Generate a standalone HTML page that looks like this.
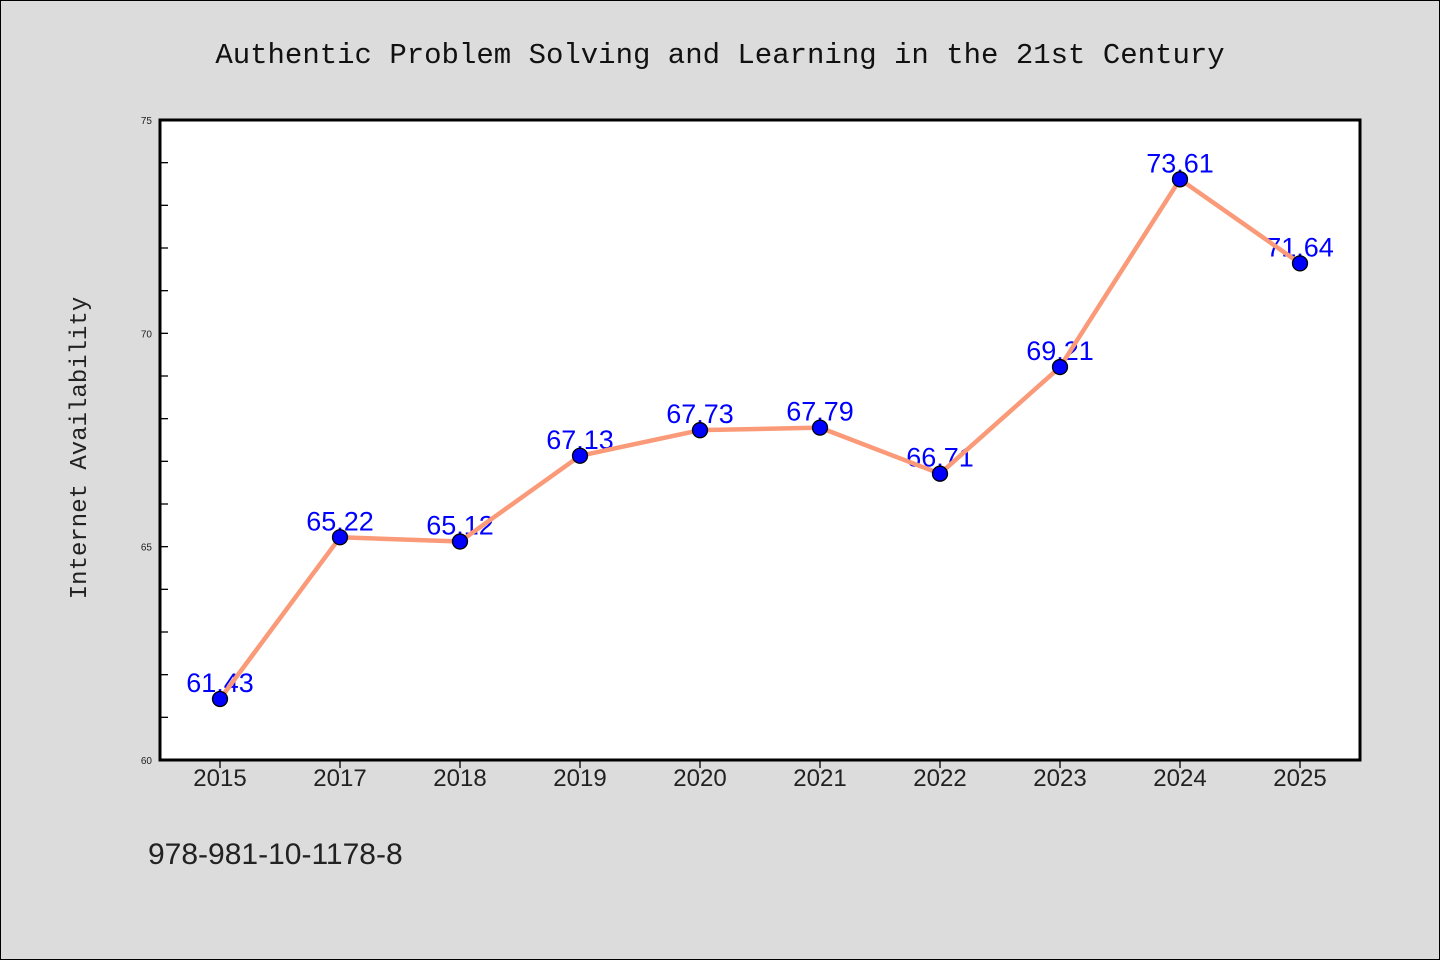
<!DOCTYPE html>
<html><head><meta charset="utf-8"><style>
body{margin:0;background:#dcdcdc;}
svg{display:block;}
</style></head><body>
<svg width="1440" height="960" xmlns="http://www.w3.org/2000/svg">
<rect x="0.5" y="0.5" width="1439" height="959" fill="#dcdcdc" stroke="#000" stroke-width="1"/>
<text x="720" y="63" text-anchor="middle" font-family="'Liberation Mono', monospace" font-size="29" fill="#111">Authentic Problem Solving and Learning in the 21st Century</text>
<rect x="160" y="120" width="1200" height="640" fill="#fff"/>
<g id="g"></g>
<rect x="160" y="120" width="1200" height="640" fill="none" stroke="#000" stroke-width="3"/>
<text x="86" y="448" text-anchor="middle" transform="rotate(-90 86 448)" font-family="'Liberation Mono', monospace" font-size="24" fill="#222">Internet Availability</text>
<text x="148" y="864" font-family="'Liberation Sans', sans-serif" font-size="30" fill="#222">978-981-10-1178-8</text>
</svg>
<script>
const categories=["2015","2017","2018","2019","2020","2021","2022","2023","2024","2025"];
const values=[61.43,65.22,65.12,67.13,67.73,67.79,66.71,69.21,73.61,71.64];
const yTicks=[60,65,70,75];
const yMin=60,yMax=75,L=160,R=1360,T=120,B=760;
const ns="http://www.w3.org/2000/svg";
const g=document.getElementById('g');
const xs=i=>L+60+i*120;
const ys=v=>B-(v-yMin)/(yMax-yMin)*(B-T);
function mk(t,a){const e=document.createElementNS(ns,t);for(const k in a)e.setAttribute(k,a[k]);g.appendChild(e);return e;}
for(let v=yMin+1;v<yMax;v++){
 const e=mk('line',{x1:L,x2:L+8,y1:ys(v),y2:ys(v),stroke:'#000','stroke-width':1.3});
 
 
}
yTicks.forEach(v=>{
 const t=mk('text',{x:L-8,y:ys(v)+4,'text-anchor':'end','font-family':'Liberation Sans, sans-serif','font-size':10,fill:'#222'});
 t.textContent=v;
 
 
});
categories.forEach((c,i)=>{
 const l=mk('line',{x1:xs(i),x2:xs(i),y1:B,y2:B+8,stroke:'#000','stroke-width':1.3});
 
 
 const t=mk('text',{x:xs(i),y:B+26,'text-anchor':'middle','font-family':'Liberation Sans, sans-serif','font-size':24,fill:'#222'});
 t.textContent=c;
 
 
});
values.forEach((v,i)=>{
 const t=mk('text',{x:xs(i),y:ys(v)-7,'text-anchor':'middle','font-family':'Liberation Sans, sans-serif','font-size':27,fill:'#0000ff'});
 t.textContent=v.toFixed(2);
 
 
});
const p=mk('polyline',{points:values.map((v,i)=>xs(i)+','+ys(v)).join(' '),fill:'none',stroke:'#fa9a78','stroke-width':4.5,'stroke-linejoin':'round'});


values.forEach((v,i)=>{
 const c=mk('circle',{cx:xs(i),cy:ys(v),r:7.5,fill:'#0000ff',stroke:'#000','stroke-width':1.3});
 
 
});
</script>
</body></html>
